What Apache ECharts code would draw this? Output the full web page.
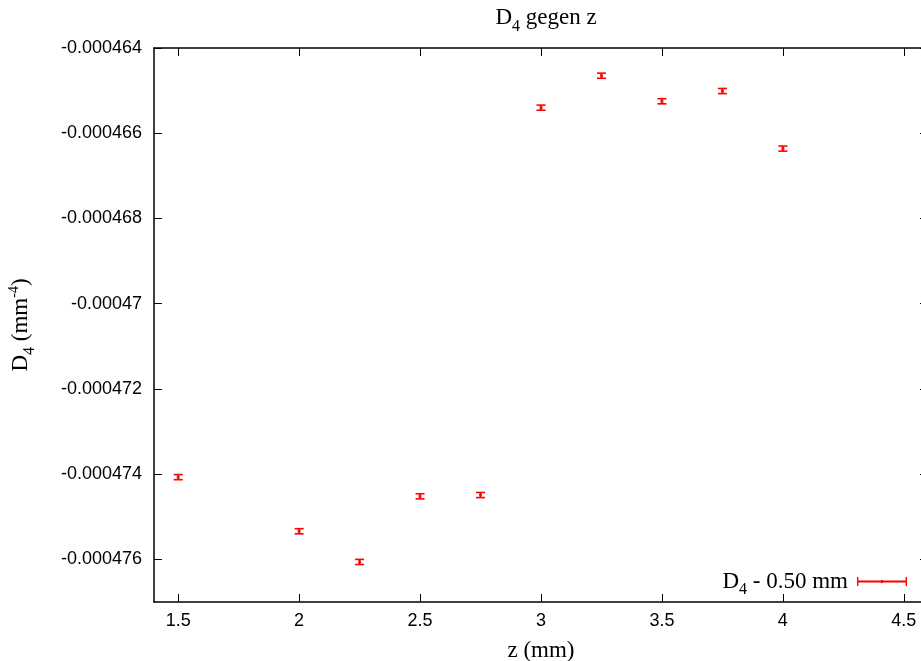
<!DOCTYPE html>
<html>
<head>
<meta charset="utf-8">
<script src="https://cdn.jsdelivr.net/npm/echarts@6/dist/echarts.min.js"></script>
<style>
html,body{margin:0;padding:0;background:#fff;}
#chart{width:921px;height:661px;}
</style>
</head>
<body>
<div id="chart"></div>
<script>
// ---- data ----
var zValues = [1.5, 2.0, 2.25, 2.5, 2.75, 3.0, 3.25, 3.5, 3.75, 4.0];
var d4Values = [-0.00047407, -0.00047534, -0.00047606, -0.00047452, -0.00047449,
                -0.00046540, -0.00046465, -0.00046525, -0.00046501, -0.00046636];
var d4Errors = [0.00000006, 0.00000006, 0.00000006, 0.00000006, 0.00000006,
                0.00000006, 0.00000006, 0.00000006, 0.00000006, 0.00000006];
var xTickValues = [1.5, 2, 2.5, 3, 3.5, 4, 4.5];
var yTickValues = [-0.000476, -0.000474, -0.000472, -0.00047, -0.000468, -0.000466, -0.000464];
var xRange = [1.4, 4.6];
var yRange = [-0.000477, -0.000464];
var seriesName = 'D4 - 0.50 mm';

var pointData = zValues.map(function (z, i) { return [z, d4Values[i]]; });
var errData = zValues.map(function (z, i) { return [z, d4Values[i] - d4Errors[i], d4Values[i] + d4Errors[i]]; });

var RED = '#ff0000';
var SERIF = '"Liberation Serif","DejaVu Serif",serif';
var SANS = '"Liberation Sans",Arial,sans-serif';

var serifRich = {
  d: { fontFamily: SERIF, fontSize: 23, fontWeight: 'normal', lineHeight: 26, verticalAlign: 'middle', color: '#000' },
  s: { fontFamily: SERIF, fontSize: 16, fontWeight: 'normal', lineHeight: 6, verticalAlign: 'middle', padding: [17, 0, 0, 0], color: '#000' },
  p: { fontFamily: SERIF, fontSize: 14, fontWeight: 'normal', lineHeight: 6, verticalAlign: 'middle', padding: [0, 0, 13, 0], color: '#000' }
};

var chart = echarts.init(document.getElementById('chart'), null, { renderer: 'canvas' });

function yFmt(v) {
  return String(parseFloat(v.toPrecision(6)));
}

var option = {
  animation: false,
  backgroundColor: '#fff',
  title: {
    text: '{d|D}{s|4}{d| gegen z}',
    left: 541,
    textAlign: 'center',
    top: 0,
    textStyle: { rich: serifRich, fontWeight: 'normal' }
  },
  legend: {
    data: [{ name: seriesName }],
    right: 9,
    top: 560,
    align: 'right',
    itemWidth: 50,
    itemHeight: 9,
    icon: 'path://M0,3.6L50,3.6L50,5.4L0,5.4Z M0,0L1.4,0L1.4,9L0,9Z M48.6,0L50,0L50,9L48.6,9Z M24,3L26,3L26,6L24,6Z',
    itemStyle: { color: RED },
    formatter: function () { return '{d|D}{s|4}{d| - 0.50 mm}'; },
    textStyle: { rich: serifRich, padding: [0, 4, 0, 0] },
    selectedMode: false
  },
  grid: {
    left: 154,
    top: 48,
    right: -7,
    bottom: 59,
    show: false,
    outerBoundsMode: 'none',
    containLabel: false
  },
  xAxis: [{
    type: 'value',
    min: xRange[0],
    max: xRange[1],
    name: '{d|z (mm)}',
    nameLocation: 'middle',
    nameGap: 36,
    nameTextStyle: { rich: serifRich },
    axisLine: { show: true, onZero: false, lineStyle: { color: '#000', width: 1.5 } },
    axisTick: { show: true, inside: true, length: 8, customValues: xTickValues, lineStyle: { color: '#000', width: 1 } },
    axisLabel: { customValues: xTickValues, color: '#000', fontFamily: SANS, fontSize: 18, margin: 10 },
    splitLine: { show: false }
  }, {
    type: 'value',
    position: 'top',
    min: xRange[0],
    max: xRange[1],
    axisLine: { show: true, onZero: false, lineStyle: { color: '#000', width: 1.5 } },
    axisTick: { show: true, inside: true, length: 8, customValues: xTickValues, lineStyle: { color: '#000', width: 1 } },
    axisLabel: { show: false },
    splitLine: { show: false }
  }],
  yAxis: [{
    type: 'value',
    min: yRange[0],
    max: yRange[1],
    name: '{d|D}{s|4}{d| (mm}{p|-4}{d|)}',
    nameLocation: 'middle',
    nameGap: 120,
    nameRotate: 90,
    nameTextStyle: { rich: serifRich },
    axisLine: { show: true, onZero: false, lineStyle: { color: '#000', width: 1.5 } },
    axisTick: { show: true, inside: true, length: 8, customValues: yTickValues, lineStyle: { color: '#000', width: 1 } },
    axisLabel: { customValues: yTickValues, color: '#000', fontFamily: SANS, fontSize: 18, margin: 12, formatter: yFmt },
    splitLine: { show: false }
  }, {
    type: 'value',
    position: 'right',
    min: yRange[0],
    max: yRange[1],
    axisLine: { show: true, onZero: false, lineStyle: { color: '#000', width: 1.5 } },
    axisTick: { show: true, inside: true, length: 8, customValues: yTickValues, lineStyle: { color: '#000', width: 1 } },
    axisLabel: { show: false },
    splitLine: { show: false }
  }],
  series: [{
    name: seriesName,
    type: 'custom',
    xAxisIndex: 0,
    yAxisIndex: 0,
    data: errData,
    encode: { x: 0, y: [1, 2] },
    renderItem: function (params, api) {
      var x = api.value(0);
      var lo = api.coord([x, api.value(1)]);
      var hi = api.coord([x, api.value(2)]);
      var hw = 4.5;
      var st = { stroke: RED, lineWidth: 1.6 };
      return {
        type: 'group',
        children: [
          { type: 'line', shape: { x1: lo[0], y1: lo[1], x2: hi[0], y2: hi[1] }, style: st },
          { type: 'line', shape: { x1: lo[0] - hw, y1: lo[1], x2: lo[0] + hw, y2: lo[1] }, style: st },
          { type: 'line', shape: { x1: hi[0] - hw, y1: hi[1], x2: hi[0] + hw, y2: hi[1] }, style: st }
        ]
      };
    },
    z: 3
  }, {
    name: seriesName,
    type: 'scatter',
    xAxisIndex: 0,
    yAxisIndex: 0,
    data: pointData,
    symbol: 'rect',
    symbolSize: 3,
    itemStyle: { color: RED },
    z: 4
  }]
};

chart.setOption(option);
</script>
</body>
</html>
